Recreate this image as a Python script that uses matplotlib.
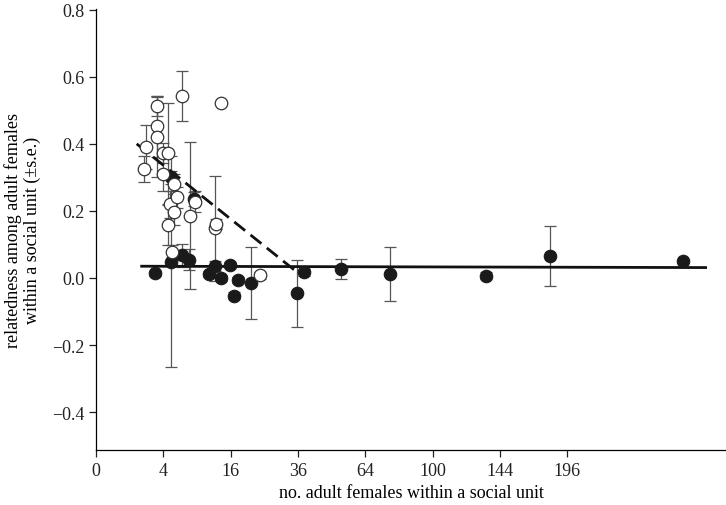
import numpy as np
import matplotlib
matplotlib.use("Agg")
import matplotlib.pyplot as plt

# open circles: number of adult females, relatedness, s.e.
open_n = [2.0, 2.2, 3.25, 3.25, 3.3, 3.95, 4.6, 3.95, 5.3, 4.85, 5.4, 5.75,
          4.6, 5.05, 7.8, 8.7, 12.5, 12.7, 6.6, 13.7, 23.8]
open_r = [0.325, 0.39, 0.512, 0.452, 0.42, 0.372, 0.372, 0.31, 0.28, 0.22,
          0.198, 0.24, 0.158, 0.077, 0.186, 0.228, 0.148, 0.16, 0.542, 0.522, 0.008]
open_se = [0.04, 0.065, 0.03, 0.09, 0.12, 0.03, 0.15, 0.05, 0.03, 0.04, 0.04,
           0.03, 0.06, 0.02, 0.22, 0.03, 0.157, 0.015, 0.075, 0.006, 0.01]

# filled circles
fill_n = [3.07, 4.93, 6.5, 7.7, 4.9, 8.4, 11.3, 12.5, 13.7, 15.9, 16.8, 17.9,
          21.1, 35.8, 38.3, 52.9, 76.3, 133.9, 181.7, 304.0]
fill_r = [0.014, 0.049, 0.067, 0.055, 0.300, 0.235, 0.012, 0.037, 0.0, 0.039,
          -0.053, -0.006, -0.015, -0.045, 0.017, 0.027, 0.011, 0.007, 0.065, 0.050]
fill_se = [0.008, 0.314, 0.035, 0.03, 0.02, 0.02, 0.01, 0.015, 0.01, 0.01,
           0.01, 0.01, 0.108, 0.10, 0.01, 0.03, 0.08, 0.01, 0.09, 0.005]

# fitted lines (endpoints)
solid_n = [1.84, 327.7]
solid_r = [0.035, 0.031]
dash_n = [1.46, 36.0]
dash_r = [0.40, 0.015]

xticks = [0, 4, 16, 36, 64, 100, 144, 196]
yticks = [-0.4, -0.2, 0.0, 0.2, 0.4, 0.6, 0.8]

plt.rcParams['font.family'] = ['Liberation Serif', 'DejaVu Serif']

fig = plt.figure(figsize=(7.26, 5.06), dpi=100)
ax = fig.add_axes([0.1322, 0.1087, 0.8678, 0.8715])

ax.set_xscale('function', functions=(lambda x: np.sqrt(np.clip(x, 0, None)),
                                     lambda x: np.square(x)))

err_kw = dict(fmt='none', ecolor='#555555', elinewidth=0.9, capsize=4,
              capthick=0.9, zorder=2)
ax.errorbar(fill_n, fill_r, yerr=fill_se, **err_kw)
ax.errorbar(open_n, open_r, yerr=open_se, **err_kw)

ax.plot(solid_n, solid_r, color='#111111', lw=2.0, zorder=3)
ax.plot(dash_n, dash_r, color='#111111', lw=2.0, linestyle=(0, (5, 2.5)), zorder=3)

ax.plot(fill_n, fill_r, 'o', ms=9, mfc='#1a1a1a', mec='#1a1a1a', mew=0.8, zorder=4)
ax.plot(open_n, open_r, 'o', ms=9, mfc='white', mec='#333333', mew=0.9, zorder=5)

ax.set_xlim(0, 350)
ax.set_ylim(-0.513, 0.802)
ax.set_xticks(xticks)
ax.set_xticklabels([str(t) for t in xticks])
ax.set_yticks(yticks)
ax.set_yticklabels(['\u22120.4', '\u22120.2', '0.0', '0.2', '0.4', '0.6', '0.8'])

for s in ['top', 'right']:
    ax.spines[s].set_visible(False)
for s in ['left', 'bottom']:
    ax.spines[s].set_linewidth(0.9)
ax.tick_params(direction='out', length=5, width=0.9, labelsize=13, colors='#222222')

ax.set_xlabel('no. adult females within a social unit', fontsize=13, labelpad=4)
ax.set_ylabel('relatedness among adult females\nwithin a social unit (\u00b1s.e.)',
              fontsize=13, labelpad=8, linespacing=1.1)

fig.savefig('out.png', dpi=100)
